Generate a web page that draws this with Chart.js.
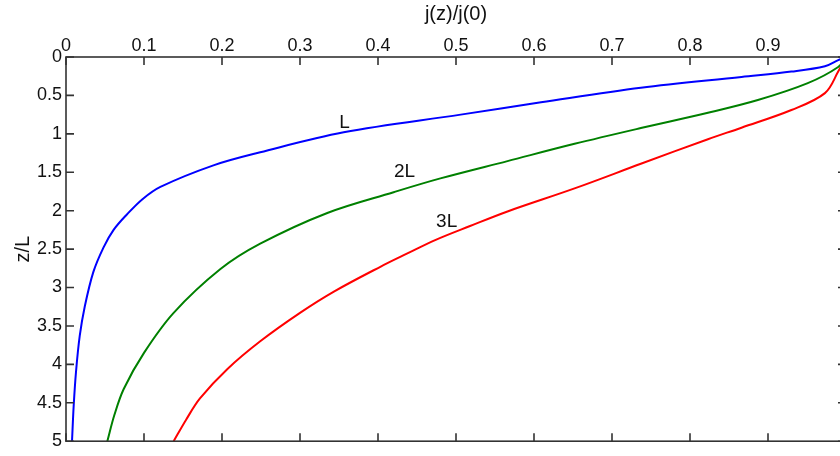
<!DOCTYPE html>
<html>
<head>
<meta charset="utf-8">
<script src="https://cdn.jsdelivr.net/npm/chart.js@4"></script>
<style>
    html, body { margin: 0; padding: 0; overflow: hidden; background: #fff; }
    #wrap { width: 860px; height: 456px; }
</style>
</head>
<body>
<div id="wrap"><canvas id="chart"></canvas></div>
<script>
// values: depth z/L and normalised current j(z)/j(0)
const zL  = [0, 0.04, 0.12, 0.19, 0.26, 0.40, 0.59, 0.75, 0.98, 1.24, 1.41, 1.69, 1.85, 2.05, 2.25, 2.48, 2.80, 3.25, 3.63, 4.10, 4.53, 5.0];
const jL  = [1.0, 0.99, 0.973, 0.93, 0.866, 0.737, 0.609, 0.506, 0.356, 0.249, 0.189, 0.121, 0.098, 0.078, 0.061, 0.048, 0.035, 0.024, 0.0176, 0.0128, 0.0099, 0.0077];

const z2L = [0, 0.13, 0.34, 0.56, 0.726, 0.925, 1.13, 1.355, 1.58, 1.76, 2.03, 2.43, 2.76, 3.33, 3.85, 4.32, 4.66, 5.0];
const j2L = [1.0, 0.99, 0.951, 0.887, 0.823, 0.737, 0.652, 0.566, 0.480, 0.420, 0.335, 0.249, 0.198, 0.138, 0.100, 0.074, 0.062, 0.053];

const z3L = [0, 0.19, 0.47, 0.69, 0.92, 1.07, 1.39, 1.71, 2.01, 2.20, 2.38, 2.56, 2.73, 3.05, 3.33, 3.70, 4.06, 4.44, 4.72, 5.0];
const j3L = [1.0, 0.99, 0.973, 0.930, 0.866, 0.823, 0.737, 0.652, 0.566, 0.518, 0.474, 0.437, 0.403, 0.344, 0.300, 0.249, 0.207, 0.172, 0.154, 0.138];

// curve labels
const labelText = ['L', '2L', '3L'];
const labelJ = [0.357, 0.434, 0.488];
const labelZ = [0.85, 1.49, 2.14];

const toPoints = (js, zs) => js.map((j, i) => ({ x: j, y: zs[i] }));

const family = '"Liberation Sans", Arial, sans-serif';

// box round the plot with inward ticks, like the original figure
const boxPlugin = {
    id: 'box',
    afterDraw(chart) {
        const ctx = chart.ctx;
        const a = chart.chartArea;
        const xs = chart.scales.x;
        const ys = chart.scales.y;
        const len = 8;
        ctx.save();
        ctx.strokeStyle = '#333';
        ctx.lineWidth = 1.6;
        ctx.strokeRect(a.left, a.top, a.right - a.left, a.bottom - a.top);
        ctx.beginPath();
        xs.ticks.forEach(t => {
            const px = xs.getPixelForValue(t.value);
            ctx.moveTo(px, a.top); ctx.lineTo(px, a.top + len);
            ctx.moveTo(px, a.bottom); ctx.lineTo(px, a.bottom - len);
        });
        ys.ticks.forEach(t => {
            const py = ys.getPixelForValue(t.value);
            ctx.moveTo(a.left, py); ctx.lineTo(a.left + len, py);
            ctx.moveTo(a.right, py); ctx.lineTo(a.right - len, py);
        });
        ctx.stroke();

        ctx.fillStyle = '#111';
        ctx.font = '19px ' + family;
        ctx.textAlign = 'center';
        ctx.textBaseline = 'middle';
        labelText.forEach((txt, i) => {
            ctx.fillText(txt, xs.getPixelForValue(labelJ[i]), ys.getPixelForValue(labelZ[i]));
        });
        ctx.restore();
    }
};

const tickFont = { family: family, size: 18 };
const titleFont = { family: family, size: 20 };

new Chart(document.getElementById('chart'), {
    type: 'scatter',
    data: {
        datasets: [
            { label: 'L', data: toPoints(jL, zL), borderColor: '#0000ff' },
            { label: '2L', data: toPoints(j2L, z2L), borderColor: '#008000' },
            { label: '3L', data: toPoints(j3L, z3L), borderColor: '#ff0000' }
        ]
    },
    options: {
        responsive: true,
        maintainAspectRatio: false,
        animation: false,
        showLine: true,
        elements: {
            point: { radius: 0 },
            line: { borderWidth: 2, tension: 0.35 }
        },
        layout: { padding: { left: 0, top: 0, right: 14, bottom: 9 } },
        plugins: { legend: { display: false }, tooltip: { enabled: false } },
        scales: {
            x: {
                type: 'linear',
                position: 'top',
                min: 0,
                max: 1,
                grid: { display: false, drawTicks: false, tickLength: 0 },
                border: { display: false },
                ticks: {
                    stepSize: 0.1,
                    padding: 0,
                    color: '#111',
                    font: tickFont,
                    maxRotation: 0,
                    callback: v => String(Math.round(v * 10) / 10)
                },
                title: {
                    display: true,
                    text: 'j(z)/j(0)',
                    color: '#111',
                    font: titleFont,
                    padding: { top: 2, bottom: 0 }
                },
                afterFit: s => { s.height = 57; }
            },
            y: {
                type: 'linear',
                reverse: true,
                min: 0,
                max: 5,
                grid: { display: false, drawTicks: false, tickLength: 0 },
                border: { display: false },
                ticks: {
                    stepSize: 0.5,
                    padding: 4,
                    color: '#111',
                    font: tickFont,
                    callback: v => String(v)
                },
                title: {
                    display: true,
                    text: 'z/L',
                    color: '#111',
                    font: titleFont,
                    padding: { top: 11, bottom: 0 }
                },
                afterFit: s => { s.width = 66; }
            }
        }
    },
    plugins: [boxPlugin]
});
</script>
</body>
</html>
